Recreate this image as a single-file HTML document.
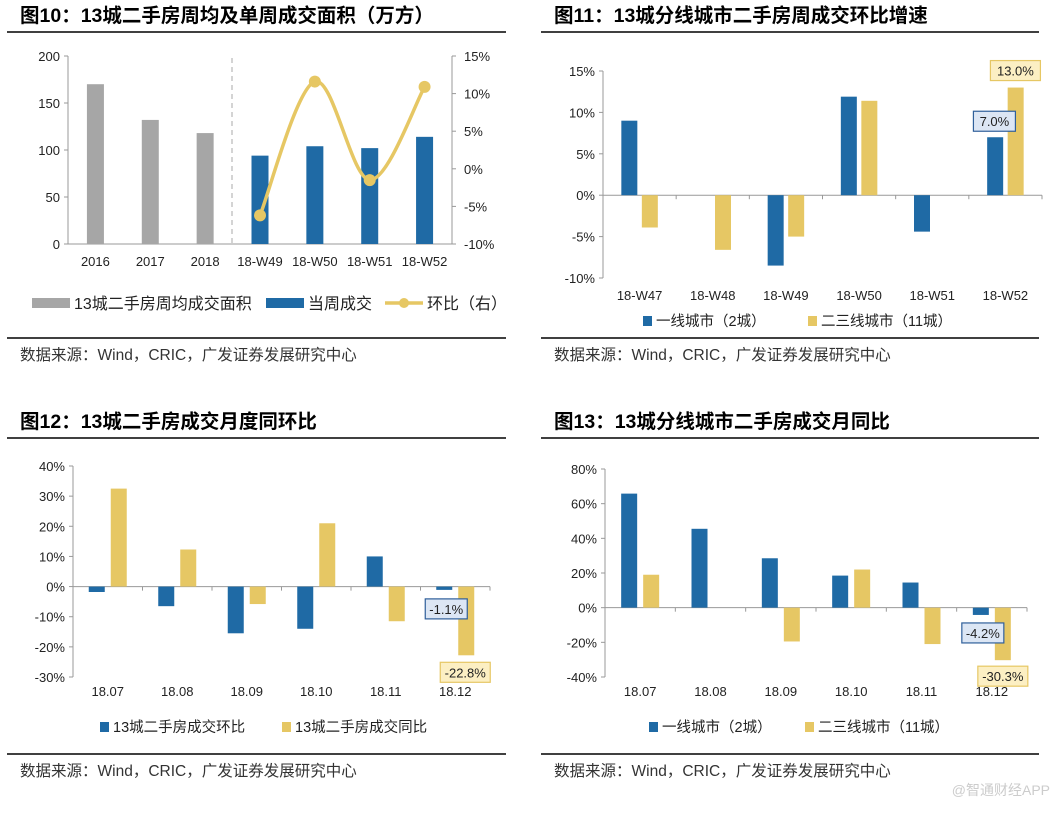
<!DOCTYPE html>
<html><head><meta charset="utf-8">
<style>
body{margin:0;background:#fff;width:1062px;height:810px;overflow:hidden;font-family:"Liberation Sans","Noto Sans CJK SC",sans-serif}
svg text{font-family:"Liberation Sans","Noto Sans CJK SC",sans-serif}
</style></head><body>
<svg id="s" width="1062" height="810"></svg>
<script>
const c1Cats=["2016","2017","2018","18-W49","18-W50","18-W51","18-W52"];
const c1Grey=[170,132,118,null,null,null,null];
const c1Blue=[null,null,null,94,104,102,114];
const c1Ratio=[null,null,null,-6.2,11.6,-1.5,10.9];
const c1LeftTicks=[0,50,100,150,200];
const c1RightTicks=[-10,-5,0,5,10,15];
const c2Cats=["18-W47","18-W48","18-W49","18-W50","18-W51","18-W52"];
const c2Tier1=[9,0,-8.5,11.9,-4.4,7.0];
const c2Tier23=[-3.9,-6.6,-5,11.4,0,13.0];
const c2Ticks=[-10,-5,0,5,10,15];
const c3Cats=["18.07","18.08","18.09","18.10","18.11","18.12"];
const c3Mom=[-1.8,-6.5,-15.5,-14,10,-1.1];
const c3Yoy=[32.5,12.3,-5.8,21,-11.5,-22.8];
const c3Ticks=[-30,-20,-10,0,10,20,30,40];
const c4Cats=["18.07","18.08","18.09","18.10","18.11","18.12"];
const c4Tier1=[65.8,45.5,28.5,18.5,14.5,-4.2];
const c4Tier23=[19,0,-19.5,22,-21,-30.3];
const c4Ticks=[-40,-20,0,20,40,60,80];

const NS="http://www.w3.org/2000/svg",S=document.getElementById('s');
const BLUE="#1f6aa5",GOLD="#e6c764",GREY="#a6a6a6";
function el(t,a,p){const e=document.createElementNS(NS,t);for(const k in a)e.setAttribute(k,a[k]);(p||S).appendChild(e);return e;}
function tx(x,y,s,a,p){const e=el('text',Object.assign({x:x,y:y,'font-size':13,fill:'#222'},a),p);e.textContent=s;return e;}

function frame(x0,x1,title,name){
  const t=tx(x0+13,title.y,title.t,{'font-size':19.5,'font-weight':'bold',fill:'#000'});
  
  const r1=el('line',{x1:x0,x2:x1,y1:title.y+10,y2:title.y+10,stroke:'#000','stroke-width':1.5});
  
  const r2=el('line',{x1:x0,x2:x1,y1:title.src-17,y2:title.src-17,stroke:'#000','stroke-width':1.5});
  
  const s=tx(x0+13,title.src+5,"数据来源：Wind，CRIC，广发证券发展研究中心",{'font-size':15.5,fill:'#333'});
  
}
function yaxis(g,ax,ticks,fmt,name){
  const y=v=>ax.y0+(v-ticks[0])/(ticks[ticks.length-1]-ticks[0])*(ax.y1-ax.y0);
  const l=el('line',{x1:ax.x,x2:ax.x,y1:y(ticks[0]),y2:y(ticks[ticks.length-1]),stroke:'#999'},g);
  
  ticks.forEach(v=>{el('line',{x1:ax.x-4,x2:ax.x,y1:y(v),y2:y(v),stroke:'#999'},g);
    const t=tx(ax.x-8,y(v)+5,fmt(v),{'text-anchor':'end'},g);
    });
  return y;
}
function pairChart(o){
  const g=el('g',{});
  const y=yaxis(g,o.ax,o.ticks,v=>v+'%',o.name);
  const n=o.cats.length,sp=(o.ax.xe-o.ax.x)/n,cx=i=>o.ax.x+sp*(i+0.5);
  const xl=el('line',{x1:o.ax.x,x2:o.ax.xe,y1:y(0),y2:y(0),stroke:'#999'},g);
  
  for(let i=0;i<=n;i++)el('line',{x1:o.ax.x+sp*i,x2:o.ax.x+sp*i,y1:y(0),y2:y(0)+4,stroke:'#999'},g);
  o.cats.forEach((c,i)=>{const t=tx(cx(i),o.labelY,c,{'text-anchor':'middle'},g);
    });
  [[o.a,BLUE,-1],[o.b,GOLD,1]].forEach(([arr,col,side],si)=>arr.forEach((v,i)=>{
    if(!v)return;const x=cx(i)+(side<0?-o.bw-o.gap/2:o.gap/2);
    const r=el('rect',{x:x,y:Math.min(y(0),y(v)),width:o.bw,height:Math.abs(y(v)-y(0)),fill:col},g);
    }));
  (o.callouts||[]).forEach(cb=>{const arr=cb.s?o.b:o.a,v=arr[cb.i];
    const bx=cx(cb.i)+cb.dx,by=y(v)+cb.dy;
    const r=el('rect',{x:bx-cb.w/2,y:by-10,width:cb.w,height:20,fill:cb.s?'#fcefc3':'#dce6f4',stroke:cb.s?'#e6c764':'#2f5f9a','stroke-width':1.2},g);
    
    const t=tx(bx,by+5,v.toFixed(1)+'%',{'text-anchor':'middle','font-size':13},g);
    });
  o.legend.forEach(L=>{const r=el('rect',{x:L.x,y:o.legY-10,width:9,height:10,fill:L.c},g);
    
    const t=tx(L.x+13,o.legY,L.t,{'font-size':14.5},g);
    });
}

/* Chart 10 */
frame(7,506,{t:"图10：13城二手房周均及单周成交面积（万方）",y:22,src:355},'chart10');
(function(){
  const g=el('g',{});
  const ax={x:68,y0:244,y1:56};const RX=452;
  const yl=yaxis(g,ax,c1LeftTicks,v=>v,'chart10-left');
  const yr=v=>ax.y0+(v-c1RightTicks[0])/(c1RightTicks[c1RightTicks.length-1]-c1RightTicks[0])*(ax.y1-ax.y0);
  el('line',{x1:RX,x2:RX,y1:244,y2:56,stroke:'#999'},g);
  c1RightTicks.forEach(v=>{el('line',{x1:RX,x2:RX+4,y1:yr(v),y2:yr(v),stroke:'#999'},g);
    const t=tx(RX+12,yr(v)+5,v+'%',{},g);});
  el('line',{x1:68,x2:RX,y1:244,y2:244,stroke:'#999'},g);
  const sp=(RX-68)/7,cx=i=>68+sp*(i+0.5);
  const d=el('line',{x1:232,x2:232,y1:58,y2:244,stroke:'#aaa','stroke-dasharray':'5,4'},g);
  
  c1Cats.forEach((c,i)=>{const t=tx(cx(i),266,c,{'text-anchor':'middle'},g);
    const v=c1Grey[i]!=null?c1Grey[i]:c1Blue[i];
    const r=el('rect',{x:cx(i)-8.5,y:yl(v),width:17,height:244-yl(v),fill:c1Grey[i]!=null?GREY:BLUE},g);
    });
  const pts=[];c1Ratio.forEach((v,i)=>{if(v!=null)pts.push([cx(i),yr(v)]);});
  let dp='M'+pts[0];for(let i=0;i<pts.length-1;i++){const p0=pts[Math.max(0,i-1)],p1=pts[i],p2=pts[i+1],p3=pts[Math.min(pts.length-1,i+2)];
    dp+=` C${p1[0]+(p2[0]-p0[0])/6},${p1[1]+(p2[1]-p0[1])/6} ${p2[0]-(p3[0]-p1[0])/6},${p2[1]-(p3[1]-p1[1])/6} ${p2[0]},${p2[1]}`;}
  const ln=el('path',{d:dp,fill:'none',stroke:GOLD,'stroke-width':3.5},g);
  pts.forEach(p=>{const c=el('circle',{cx:p[0],cy:p[1],r:6,fill:GOLD},g);});
  const L=[[32,'13城二手房周均成交面积','r',GREY],[266,'当周成交','r',BLUE],[385,'环比（右）','l',GOLD]];
  L.forEach(([x,t,k,c])=>{if(k=='r'){const r=el('rect',{x:x,y:298,width:38,height:10,fill:c},g);}
    else{el('line',{x1:x,x2:x+38,y1:303,y2:303,stroke:c,'stroke-width':3.5},g);el('circle',{cx:x+19,cy:303,r:5,fill:c},g);}
    const e=tx(x+42,309,t,{'font-size':16},g);});
})();

/* Chart 11 */
frame(541,1039,{t:"图11：13城分线城市二手房周成交环比增速",y:22,src:355},'chart11');
pairChart({name:'chart11',cats:c2Cats,a:c2Tier1,b:c2Tier23,ticks:c2Ticks,ax:{x:603,xe:1042,y0:278,y1:71},
  bw:16,gap:4.5,labelY:300,legY:326,
  callouts:[{s:1,i:5,dx:10,dy:-17,w:50},{s:0,i:5,dx:-11,dy:-16,w:42}],
  legend:[{x:643,c:BLUE,t:"一线城市（2城）"},{x:808,c:GOLD,t:"二三线城市（11城）"}]});

/* Chart 12 */
frame(7,506,{t:"图12：13城二手房成交月度同环比",y:428,src:771},'chart12');
pairChart({name:'chart12',cats:c3Cats,a:c3Mom,b:c3Yoy,ticks:c3Ticks,ax:{x:73,xe:490,y0:677,y1:466},
  bw:16,gap:6,labelY:696,legY:732,
  callouts:[{s:0,i:5,dx:-9,dy:19,w:42},{s:1,i:5,dx:10,dy:17,w:50}],
  legend:[{x:100,c:BLUE,t:"13城二手房成交环比"},{x:282,c:GOLD,t:"13城二手房成交同比"}]});

/* Chart 13 */
frame(541,1039,{t:"图13：13城分线城市二手房成交月同比",y:428,src:771},'chart13');
pairChart({name:'chart13',cats:c4Cats,a:c4Tier1,b:c4Tier23,ticks:c4Ticks,ax:{x:605,xe:1027,y0:677,y1:469},
  bw:16,gap:6,labelY:696,legY:732,
  callouts:[{s:0,i:5,dx:-9,dy:18,w:42},{s:1,i:5,dx:11,dy:16,w:50}],
  legend:[{x:649,c:BLUE,t:"一线城市（2城）"},{x:805,c:GOLD,t:"二三线城市（11城）"}]});

const wm=tx(1050,795,"@智通财经APP",{'text-anchor':'end','font-size':14,fill:'#ccc'});


</script>
</body></html>
